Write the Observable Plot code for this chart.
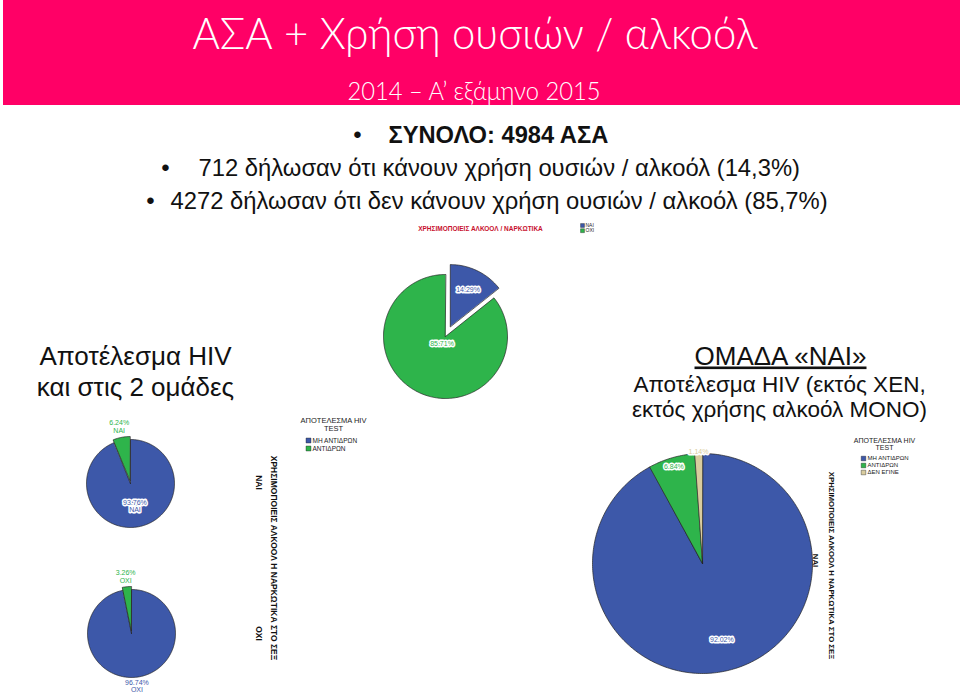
<!DOCTYPE html>
<html><head><meta charset="utf-8">
<script src="https://cdn.jsdelivr.net/npm/d3@7"></script>
<script src="https://cdn.jsdelivr.net/npm/@observablehq/plot@0.6"></script>
<style>
html,body{margin:0;padding:0;background:#fff;}
#wrap{position:relative;width:960px;height:696px;overflow:hidden;background:#fff;}
#band{position:absolute;left:3px;top:0;width:957px;height:105px;background:#ff0066;}
#chart{position:absolute;left:0;top:0;}
</style></head><body><div id="wrap"><div id="band"></div><div id="chart"></div></div>
<script>
// ---------------- data ----------------
const overallCategories = ["ΝΑΙ", "ΟΧΙ"];
const overallValues = [14.29, 85.71];
const hivCategories = ["ΜΗ ΑΝΤΙΔΡΩΝ", "ΑΝΤΙΔΡΩΝ"];
const hivNaiValues = [93.76, 6.24];
const hivOxiValues = [96.74, 3.26];
const hivCategories3 = ["ΜΗ ΑΝΤΙΔΡΩΝ", "ΑΝΤΙΔΡΩΝ", "ΔΕΝ ΕΓΙΝΕ"];
const groupNaiValues = [92.02, 6.84, 1.14];
const panelLabels = ["ΝΑΙ", "ΟΧΙ"];

const titleText = "ΑΣΑ + Χρήση ουσιών / αλκοόλ";
const subtitleText = "2014 – Α’ εξάμηνο 2015";
const bulletTexts = ["ΣΥΝΟΛΟ: 4984 ΑΣΑ",
  "712 δήλωσαν ότι κάνουν χρήση ουσιών / αλκοόλ (14,3%)",
  "4272 δήλωσαν ότι δεν κάνουν χρήση ουσιών / αλκοόλ (85,7%)"];
const leftHeading = ["Αποτέλεσμα HIV", "και στις 2 ομάδες"];
const rightHeading = ["ΟΜΑΔΑ «ΝΑΙ»", "Αποτέλεσμα HIV (εκτός ΧΕΝ,", "εκτός χρήσης αλκοόλ ΜΟΝΟ)"];
const topChartTitle = "ΧΡΗΣΙΜΟΠΟΙΕΙΣ ΑΛΚΟΟΛ / ΝΑΡΚΩΤΙΚΑ";
const legendTitle = "ΑΠΟΤΕΛΕΣΜΑ HIV\nTEST";
const panelAxisTitle = "ΧΡΗΣΙΜΟΠΟΙΕΙΣ ΑΛΚΟΟΛ Η ΝΑΡΚΩΤΙΚΑ ΣΤΟ ΣΕΞ";

// ---------------- styles / layout ----------------
const BLUE = "#3d58a9", GREEN = "#2eb44b", BEIGE = "#d9cc9e";
const colorDomain = ["ΝΑΙ", "ΟΧΙ", "ΜΗ ΑΝΤΙΔΡΩΝ", "ΑΝΤΙΔΡΩΝ", "ΔΕΝ ΕΓΙΝΕ"];
const colorRange = [BLUE, GREEN, BLUE, GREEN, BEIGE];
const SANS = "Liberation Sans, Arial, sans-serif";

const pies = [
  {id: "overall", cats: overallCategories, values: overallValues, cx: 445, cy: 336, r: 62,
   explode: [11, 0], labelFrac: [0.66, 0.13], suffix: null},
  {id: "nai", cats: hivCategories, values: hivNaiValues, cx: 130, cy: 483, r: 44,
   explode: [0, 3], labelFrac: [0.52, 1.25], suffix: panelLabels[0]},
  {id: "oxi", cats: hivCategories, values: hivOxiValues, cx: 131, cy: 633, r: 44,
   explode: [0, 3], labelFrac: [1.21, 1.23], suffix: panelLabels[1]},
  {id: "group", cats: hivCategories3, values: groupNaiValues, cx: 702, cy: 563, r: 110,
   explode: [0, 0, 0], labelFrac: [0.71, 0.92, 1.02], suffix: null}
];

const slicePts = [], sliceLabels = [];
for (const p of pies) {
  const arcs = d3.pie().sort(null).value(d => d.value)(
    p.cats.map((c, i) => ({cat: c, value: p.values[i]})));
  arcs.forEach((a, k) => {
    const mid = (a.startAngle + a.endAngle) / 2;
    const e = p.explode[k] || 0;
    const cx = p.cx + e * Math.sin(mid), cy = p.cy - e * Math.cos(mid);
    const id = p.id + "-" + k, cat = a.data.cat;
    slicePts.push({id, cat, x: cx, y: cy});
    const n = Math.max(2, Math.ceil((a.endAngle - a.startAngle) / (Math.PI / 180)));
    for (let j = 0; j <= n; j++) {
      const t = a.startAngle + (a.endAngle - a.startAngle) * j / n;
      slicePts.push({id, cat, x: cx + p.r * Math.sin(t), y: cy - p.r * Math.cos(t)});
    }
    const lr = p.labelFrac[k] * p.r;
    sliceLabels.push({cat, x: cx + lr * Math.sin(mid), y: cy - lr * Math.cos(mid),
      text: a.data.value.toFixed(2) + "%" + (p.suffix ? "\n" + p.suffix : "")});
  });
}

function legendItems(cats, x, y0, step) {
  return cats.map((c, i) => ({cat: c, x, y: y0 + i * step}));
}
const topLegend = legendItems(overallCategories, 582, 225, 5.2);
const leftLegend = legendItems(hivCategories, 308, 440, 8);
const rightLegend = legendItems(hivCategories3, 863, 458, 7);

const chart = Plot.plot({
  width: 960, height: 696, margin: 0,
  x: {domain: [0, 960], range: [0, 960], axis: null},
  y: {domain: [0, 696], range: [0, 696], axis: null},
  color: {domain: colorDomain, range: colorRange},
  style: {background: "transparent", overflow: "visible"},
  marks: [
    // header
    Plot.text([titleText], {x: 474.5, y: 48, text: d => d, fill: "white", fontSize: 43,
      fontFamily: "Lato, Open Sans, sans-serif", fontWeight: 300, lineAnchor: "bottom", className: "ttl"}),
    Plot.text([subtitleText], {x: 473.5, y: 99, text: d => d, fill: "white", fontSize: 26,
      fontFamily: "Lato, Open Sans, sans-serif", fontWeight: 300, lineAnchor: "bottom", className: "sub"}),
    // bullets
    Plot.text(["•", "•", "•"], {x: [357, 165, 150], y: [142, 175, 208], text: d => d, fill: "#111",
      fontSize: 24, fontFamily: SANS, lineAnchor: "bottom"}),
    Plot.text([bulletTexts[0]], {x: 388, y: 142, text: d => d, fill: "#111", fontSize: 23.7, fontWeight: "bold",
      fontFamily: SANS, textAnchor: "start", lineAnchor: "bottom"}),
    Plot.text(bulletTexts.slice(1), {x: [198, 170], y: [175, 208], text: d => d, fill: "#111", fontSize: 23.8,
      fontFamily: SANS, textAnchor: "start", lineAnchor: "bottom"}),
    // side headings
    Plot.text(leftHeading, {x: 135, y: [364, 395], text: d => d, fill: "#111", fontSize: 26,
      fontFamily: SANS, lineAnchor: "bottom"}),
    Plot.text([rightHeading[0]], {x: 780, y: 364, text: d => d, fill: "#111", fontSize: 26,
      fontFamily: SANS, lineAnchor: "bottom", className: "ul"}),
    Plot.text(rightHeading.slice(1), {x: 779, y: [391, 416], text: d => d, fill: "#111", fontSize: 22.5,
      fontFamily: SANS, lineAnchor: "bottom"}),
    // pies
    Plot.line(slicePts, {x: "x", y: "y", z: "id", fill: "cat", stroke: "#222", strokeWidth: 0.7,
      curve: "linear-closed", strokeLinejoin: "round"}),
    Plot.text(sliceLabels, {x: "x", y: "y", text: "text", fill: "cat", stroke: "white", strokeWidth: 3,
      paintOrder: "stroke", fontSize: 7, fontFamily: SANS, lineHeight: 1.05}),
    // top chart title + legend
    Plot.text([topChartTitle], {x: 480, y: 228, text: d => d, fill: "#c8102e", fontSize: 6.5,
      fontWeight: "bold", fontFamily: SANS}),
    Plot.dot(topLegend, {x: "x", y: "y", fill: "cat", symbol: "square", r: 2.2, stroke: "#222", strokeWidth: 0.4}),
    Plot.text(topLegend, {x: d => d.x + 3, y: "y", text: "cat", fill: "#222", fontSize: 5,
      fontFamily: SANS, textAnchor: "start"}),
    // left legend
    Plot.text([legendTitle], {x: 333, y: 424, text: d => d, fill: "#222", fontSize: 7.5,
      fontFamily: SANS, lineHeight: 1.1}),
    Plot.dot(leftLegend, {x: "x", y: "y", fill: "cat", symbol: "square", r: 2.8, stroke: "#222", strokeWidth: 0.4}),
    Plot.text(leftLegend, {x: d => d.x + 4, y: "y", text: "cat", fill: "#222", fontSize: 6.5,
      fontFamily: SANS, textAnchor: "start"}),
    // right legend
    Plot.text([legendTitle], {x: 884, y: 443.5, text: d => d, fill: "#222", fontSize: 7,
      fontFamily: SANS, lineHeight: 1.05}),
    Plot.dot(rightLegend, {x: "x", y: "y", fill: "cat", symbol: "square", r: 2.6, stroke: "#222", strokeWidth: 0.4}),
    Plot.text(rightLegend, {x: d => d.x + 4, y: "y", text: "cat", fill: "#222", fontSize: 6,
      fontFamily: SANS, textAnchor: "start"}),
    // panel (facet) titles, rotated
    Plot.text([panelAxisTitle], {x: 273, y: 557.5, text: d => d, rotate: 90, fill: "#111", fontSize: 8.5,
      fontWeight: "bold", fontFamily: SANS}),
    Plot.text(panelLabels, {x: 258, y: [482, 633], text: d => d, rotate: 90, fill: "#111", fontSize: 8.5,
      fontWeight: "bold", fontFamily: SANS}),
    Plot.text([panelAxisTitle], {x: 831, y: 565, text: d => d, rotate: 90, fill: "#111", fontSize: 7.8,
      fontWeight: "bold", fontFamily: SANS}),
    Plot.text([panelLabels[0]], {x: 815, y: 560, text: d => d, rotate: 90, fill: "#111", fontSize: 7.8,
      fontWeight: "bold", fontFamily: SANS})
  ]
});
chart.querySelectorAll(".ttl text").forEach(t => { t.setAttribute("textLength", 565); t.setAttribute("lengthAdjust", "spacingAndGlyphs"); });
chart.querySelectorAll(".sub text").forEach(t => { t.setAttribute("textLength", 253); t.setAttribute("lengthAdjust", "spacingAndGlyphs"); });
chart.querySelectorAll(".ul text").forEach(t => t.style.textDecoration = "underline");
document.getElementById("chart").appendChild(chart);
</script></body></html>
